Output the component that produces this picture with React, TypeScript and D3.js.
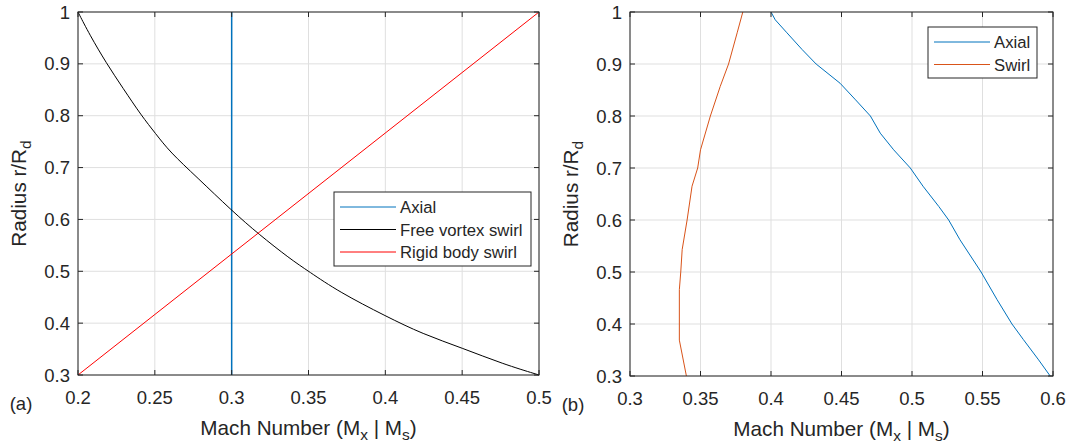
import React from 'react';
import * as d3 from 'd3';

// ticks
const xTicksA = [0.2, 0.25, 0.3, 0.35, 0.4, 0.45, 0.5];
const xTicksB = [0.3, 0.35, 0.4, 0.45, 0.5, 0.55, 0.6];
const yTicks = [0.3, 0.4, 0.5, 0.6, 0.7, 0.8, 0.9, 1];

// panel (a)
const axialA_M = [0.3, 0.3];
const axialA_r = [0.3, 1.0];
const freeVortexM = [0.2, 0.2076, 0.2185, 0.2293, 0.2413, 0.2504, 0.2598, 0.2772, 0.3004, 0.3174, 0.338, 0.35, 0.37, 0.4002, 0.4243, 0.4504, 0.4765, 0.5];
const freeVortexR = [1.0, 0.956, 0.901, 0.853, 0.8, 0.766, 0.73, 0.682, 0.616, 0.572, 0.524, 0.5, 0.46, 0.4135, 0.379, 0.3516, 0.3213, 0.3];
const rigidM = [0.2, 0.5];
const rigidR = [0.3, 1.0];

// panel (b)
const axialB_M = [0.4, 0.403, 0.4113, 0.422, 0.432, 0.449, 0.46, 0.4705, 0.4775, 0.487, 0.4988, 0.5078, 0.519, 0.526, 0.534, 0.549, 0.5603, 0.5709, 0.579, 0.5898, 0.598];
const axialB_r = [1.0, 0.985, 0.96, 0.928, 0.9, 0.863, 0.831, 0.8, 0.767, 0.735, 0.7, 0.665, 0.626, 0.6, 0.562, 0.5, 0.447, 0.4, 0.37, 0.331, 0.3];
const swirlB_M = [0.38, 0.376, 0.3699, 0.364, 0.357, 0.35, 0.348, 0.344, 0.3405, 0.337, 0.336, 0.335, 0.335, 0.335, 0.34];
const swirlB_r = [1.0, 0.96, 0.9, 0.857, 0.8, 0.735, 0.7, 0.665, 0.6, 0.543, 0.5, 0.466, 0.4, 0.369, 0.3];

const W = 1068;
const H = 443;
const FONT = '"Liberation Sans", Arial, Helvetica, sans-serif';
const TXT = '#262626';
const GRID = '#dfdfdf';

const zip = (xs: number[], ys: number[]) => xs.map((x, i) => [x, ys[i]] as [number, number]);
const fmt = (v: number) => String(+v.toFixed(2));

type Series = { data: [number, number][]; color: string; curve?: d3.CurveFactory; width?: number };

const Panel = ({ x0, x1, y0, y1, xDomain, xTicks, series, tag, legend }: any) => {
  const x = d3.scaleLinear().domain(xDomain).range([x0, x1]);
  const y = d3.scaleLinear().domain([0.3, 1]).range([y1, y0]);
  const tickLen = 5;
  return (
    <g fontFamily={FONT} fill={TXT}>
      {/* grid */}
      {xTicks.map((t: number) => (
        <line key={'gx' + t} x1={x(t)} x2={x(t)} y1={y0} y2={y1} stroke={GRID} strokeWidth={1} />
      ))}
      {yTicks.map((t) => (
        <line key={'gy' + t} x1={x0} x2={x1} y1={y(t)} y2={y(t)} stroke={GRID} strokeWidth={1} />
      ))}
      {/* data */}
      {series.map((s: Series, i: number) => {
        const line = d3.line<[number, number]>()
          .x(d => x(d[0]))
          .y(d => y(d[1]))
          .curve(s.curve || d3.curveLinear);
        return <path key={i} d={line(s.data) || ''} fill="none" stroke={s.color} strokeWidth={s.width || 1} />;
      })}
      {/* ticks */}
      {xTicks.map((t: number) => (
        <g key={'tx' + t}>
          <line x1={x(t)} x2={x(t)} y1={y1} y2={y1 - tickLen} stroke={TXT} />
          <line x1={x(t)} x2={x(t)} y1={y0} y2={y0 + tickLen} stroke={TXT} />
          <text x={x(t)} y={y1 + 29} textAnchor="middle" fontSize={18.5}>{fmt(t)}</text>
        </g>
      ))}
      {yTicks.map((t) => (
        <g key={'ty' + t}>
          <line x1={x0} x2={x0 + tickLen} y1={y(t)} y2={y(t)} stroke={TXT} />
          <line x1={x1} x2={x1 - tickLen} y1={y(t)} y2={y(t)} stroke={TXT} />
          <text x={x0 - 8} y={y(t) + 6.5} textAnchor="end" fontSize={18.5}>{fmt(t)}</text>
        </g>
      ))}
      <rect x={x0} y={y0} width={x1 - x0} height={y1 - y0} fill="none" stroke={TXT} strokeWidth={1} />
      {/* labels */}
      <text x={(x0 + x1) / 2} y={y1 + 60} textAnchor="middle" fontSize={20.7}>
        Mach Number (M<tspan fontSize={15.5} dy={5}>x</tspan><tspan dy={-5}> | M</tspan><tspan fontSize={15.5} dy={5}>s</tspan><tspan dy={-5}>)</tspan>
      </text>
      <text transform={`translate(${x0 - 52},${(y0 + y1) / 2}) rotate(-90)`} textAnchor="middle" fontSize={20.7}>
        Radius r/R<tspan fontSize={15.5} dy={5}>d</tspan>
      </text>
      <text x={x0 - 57} y={y1 + 35} textAnchor="middle" fontSize={18.5}>{tag}</text>
      {/* legend */}
      <g>
        <rect x={legend.x} y={legend.y} width={legend.w} height={legend.h} fill="#fff" stroke={TXT} strokeWidth={1} />
        {legend.items.map((it: any, i: number) => {
          const cy = legend.y + 15 + i * 22.5;
          return (
            <g key={it.label}>
              <line x1={legend.x + 6} x2={legend.x + 62} y1={cy} y2={cy} stroke={it.color} strokeWidth={1} />
              <text x={legend.x + 66} y={cy + 6} fontSize={16.7}>{it.label}</text>
            </g>
          );
        })}
      </g>
    </g>
  );
};

export default function App() {
  const blue = '#0072BD';
  const orange = '#D95319';
  return (
    <div style={{ position: 'fixed', left: 0, top: 0 }}>
      <svg width={W} height={H} style={{ display: 'block', background: '#fff' }}>
        <Panel
          x0={78} x1={539} y0={12} y1={375}
          xDomain={[0.2, 0.5]} xTicks={xTicksA}
          tag="(a)"
          series={[
            { data: zip(axialA_M, axialA_r), color: blue, width: 1.5 },
            { data: zip(freeVortexM, freeVortexR), color: '#000', curve: d3.curveBasis },
            { data: zip(rigidM, rigidR), color: '#ff0000' },
          ]}
          legend={{
            x: 334, y: 192, w: 197, h: 74,
            items: [
              { label: 'Axial', color: blue },
              { label: 'Free vortex swirl', color: '#000' },
              { label: 'Rigid body swirl', color: '#ff0000' },
            ],
          }}
        />
        <Panel
          x0={630} x1={1053} y0={12} y1={376}
          xDomain={[0.3, 0.6]} xTicks={xTicksB}
          tag="(b)"
          series={[
            { data: zip(axialB_M, axialB_r), color: blue },
            { data: zip(swirlB_M, swirlB_r), color: orange },
          ]}
          legend={{
            x: 928, y: 27, w: 109, h: 51,
            items: [
              { label: 'Axial', color: blue },
              { label: 'Swirl', color: orange },
            ],
          }}
        />
      </svg>
    </div>
  );
}
